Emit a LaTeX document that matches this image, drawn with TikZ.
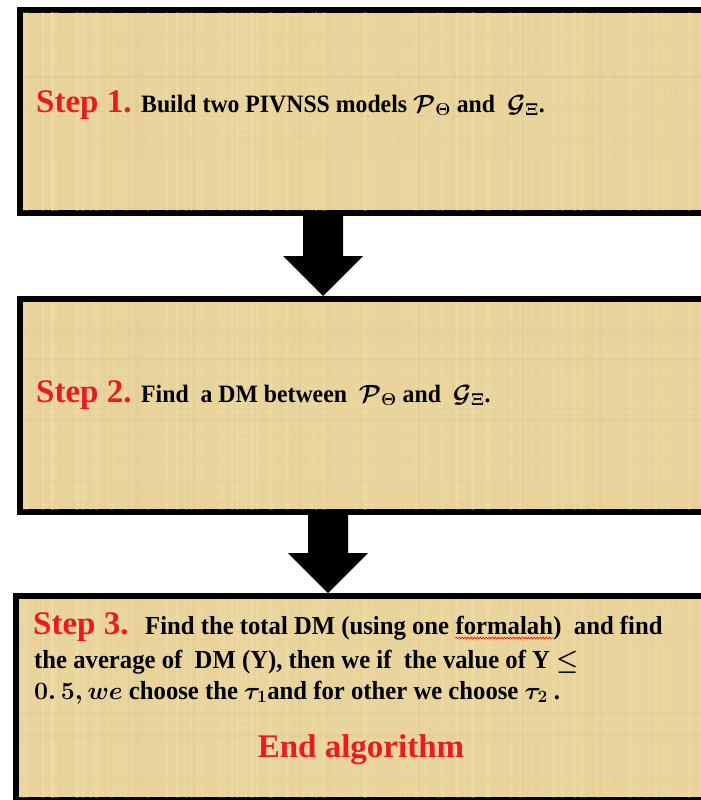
\documentclass[tikz,border=0pt]{standalone}
\usepackage{amsmath,bm}
\usepackage{fontspec}
\setmainfont{Liberation Serif}
\newfontfamily\condfont[FakeStretch=0.95]{Liberation Serif}
\usetikzlibrary{calc,decorations.pathmorphing}
\definecolor{parch}{RGB}{233,212,156}
\definecolor{parchlight}{RGB}{246,234,195}
\definecolor{parchdark}{RGB}{210,186,128}
\definecolor{stepred}{RGB}{232,28,30}
\newcommand\steplbl[1]{{\fontsize{33}{36}\selectfont\bfseries\color{stepred}#1}}
\newcommand\bodyfont{\condfont\bfseries\fontsize{25}{28}\selectfont\boldmath}
\newcommand\bodyfontb{\condfont\bfseries\fontsize{26}{29}\selectfont\boldmath}
\tikzset{
  stepbox/.style={draw=black, line width=6pt, fill=parch, rectangle, inner sep=0pt, anchor=north west},
  txt/.style={anchor=base west, inner sep=0pt, font=\bodyfont, text=black},
  txtb/.style={txt, font=\bodyfontb},
  lbl/.style={anchor=base west, inner sep=0pt},
  blockarrow/.style={fill=black},
  wavy/.style={draw=red, line width=0.6pt, decorate, decoration={snake, amplitude=0.9pt, segment length=3pt}}
}
\newcommand\texturebox[1]{%
  \begin{scope}
    \clip ($(#1.north west)+(6,6)$) rectangle ($(#1.south east)+(-6,-6)$);
    \pgfmathsetseed{7}
    \foreach \i in {1,...,90}{
      \pgfmathsetmacro\xx{rnd*720}
      \pgfmathsetmacro\ww{0.5+rnd*2.5}
      \draw[parchlight, opacity=0.22, line width=\ww pt] (\xx,0) -- (\xx,800);
    }
    \foreach \i in {1,...,60}{
      \pgfmathsetmacro\xx{rnd*720}
      \pgfmathsetmacro\ww{0.5+rnd*1.5}
      \draw[parchdark, opacity=0.12, line width=\ww pt] (\xx,0) -- (\xx,800);
    }
    \foreach \i in {1,...,80}{
      \pgfmathsetmacro\yy{rnd*800}
      \pgfmathsetmacro\ww{0.5+rnd*2}
      \draw[parchdark, opacity=0.10, line width=\ww pt] (0,\yy) -- (720,\yy);
    }
  \end{scope}}
\begin{document}
\begin{tikzpicture}[x=1pt,y=-1pt]
\useasboundingbox (0,0) rectangle (701,800);
\clip (0,0) rectangle (701,800);
\fill[white] (0,0) rectangle (701,800);

% boxes
\node[stepbox, minimum width=693pt, minimum height=203pt] (b1) at (17,7) {};
\node[stepbox, minimum width=693pt, minimum height=213pt] (b2) at (17,296) {};
\node[stepbox, minimum width=697pt, minimum height=204pt] (b3) at (13,593) {};
\texturebox{b1}
\texturebox{b2}
\texturebox{b3}

% arrows
\coordinate (ax1) at (323,0);
\coordinate (ax2) at (328,0);
\coordinate (t1) at (b1.south -| ax1);
\coordinate (h1) at (b2.north -| ax1);
\coordinate (t2) at (b2.south -| ax2);
\coordinate (h2) at (b3.north -| ax2);
\fill[blockarrow] ($(t1)+(-20,0)$) -- ($(t1)+(20,0)$) -- ($(h1)+(20,-40)$) -- ($(h1)+(40,-40)$) -- (h1) -- ($(h1)+(-40,-40)$) -- ($(h1)+(-20,-40)$) -- cycle;
\fill[blockarrow] ($(t2)+(-20,0)$) -- ($(t2)+(20,0)$) -- ($(h2)+(20,-40)$) -- ($(h2)+(40,-40)$) -- (h2) -- ($(h2)+(-40,-40)$) -- ($(h2)+(-20,-40)$) -- cycle;

% step 1
\node[lbl] (s1) at (36,112) {\steplbl{Step 1.}};
\node[txt] (s1t) at (141,112) {Build two PIVNSS models $\boldsymbol{\mathcal{P}}_{\boldsymbol{\Theta}}$ and\ \ $\boldsymbol{\mathcal{G}}_{\boldsymbol{\Xi}}$.};

% step 2
\node[lbl] (s2) at (36,402) {\steplbl{Step 2.}};
\node[txt] (s2t) at (141,402) {Find\ \ a DM between\ \ $\boldsymbol{\mathcal{P}}_{\boldsymbol{\Theta}}$ and\ \ $\boldsymbol{\mathcal{G}}_{\boldsymbol{\Xi}}$.};

% step 3
\node[lbl] (s3) at (33,634) {\steplbl{Step 3.}};
\node[txtb] (f1) at (145,634) {Find the total DM (using one};
\node[txtb] (f2) at ($(f1.base east)+(6,0)$) {formalah};
\node[txtb] (f3) at (f2.base east) {)\ \ and find};
\draw[wavy] ($(f2.base west)+(0,4)$) -- ($(f2.base east)+(0,4)$);
\node[txtb] (l2) at (34,668) {the average of\ \ DM (Y), then we if\ \ the value of Y $\boldsymbol{\leq}$};
\node[txtb] (l3) at (34,699) {$\mathbf{0.\,5},\boldsymbol{we}$ choose the $\boldsymbol{\tau}_{\mathbf{1}}$and for other we choose $\boldsymbol{\tau}_{\mathbf{2}}$\ .};
\node[anchor=base, inner sep=0pt] (end) at (361,757) {\steplbl{End algorithm}};
\end{tikzpicture}
\end{document}
